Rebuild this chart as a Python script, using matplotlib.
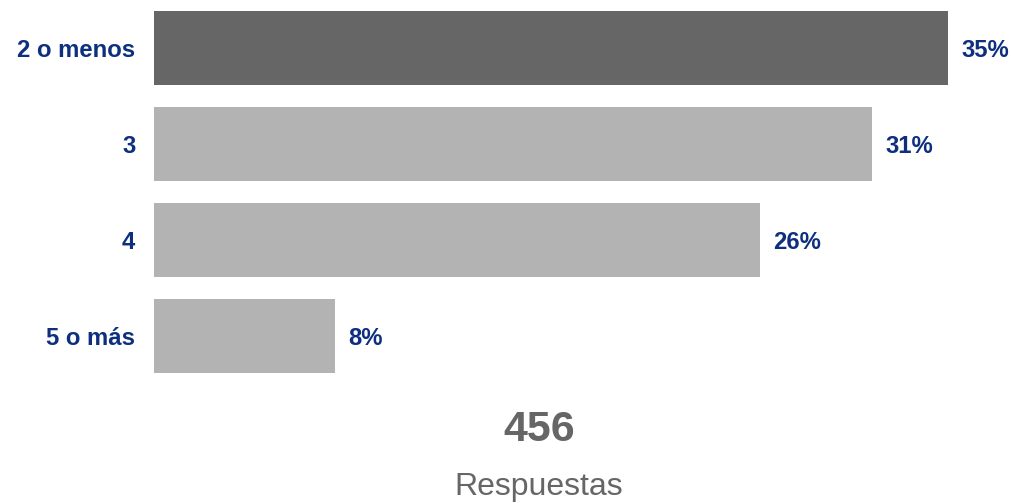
import matplotlib
matplotlib.use('Agg')
from matplotlib import pyplot as plt

# Distribución de respuestas
categories = ['2 o menos', '3', '4', '5 o más']
values = [34.6, 31.3, 26.4, 7.9]
labels = ['35%', '31%', '26%', '8%']
colors = ['#666666', '#b3b3b3', '#b3b3b3', '#b3b3b3']
total = 456

plt.rcParams['font.family'] = ['Liberation Sans', 'DejaVu Sans']
navy = '#0d2f7e'

W, H = 1011, 503
fig = plt.figure(figsize=(W / 100, H / 100), dpi=100)
ax = fig.add_axes([154 / W, (H - 384.5) / H, 794 / W, 385 / H])

y = range(len(categories))
ax.barh(y, values, height=0.77, color=colors)
ax.set_xlim(0, 34.6)
ax.set_ylim(3.5, -0.5)

for i, (v, lab) in enumerate(zip(values, labels)):
    ax.annotate(lab, (v, i), xytext=(13, 0), textcoords='offset pixels',
                ha='left', va='center_baseline', fontsize=17.2,
                fontweight='bold', color=navy)

ax.set_yticks(list(y))
ax.set_yticklabels(categories, fontsize=17.2, fontweight='bold', color=navy)
ax.tick_params(axis='y', length=0, pad=13.5)
ax.set_xticks([])
for s in ax.spines.values():
    s.set_visible(False)

fig.text(539 / W, 1 - 430 / H, str(total), ha='center', va='center',
         fontsize=31, fontweight='bold', color='#666666')
fig.text(539 / W, 1 - 487 / H, 'Respuestas', ha='center', va='center',
         fontsize=23, color='#666666')

fig.savefig('out.png', dpi=100)
